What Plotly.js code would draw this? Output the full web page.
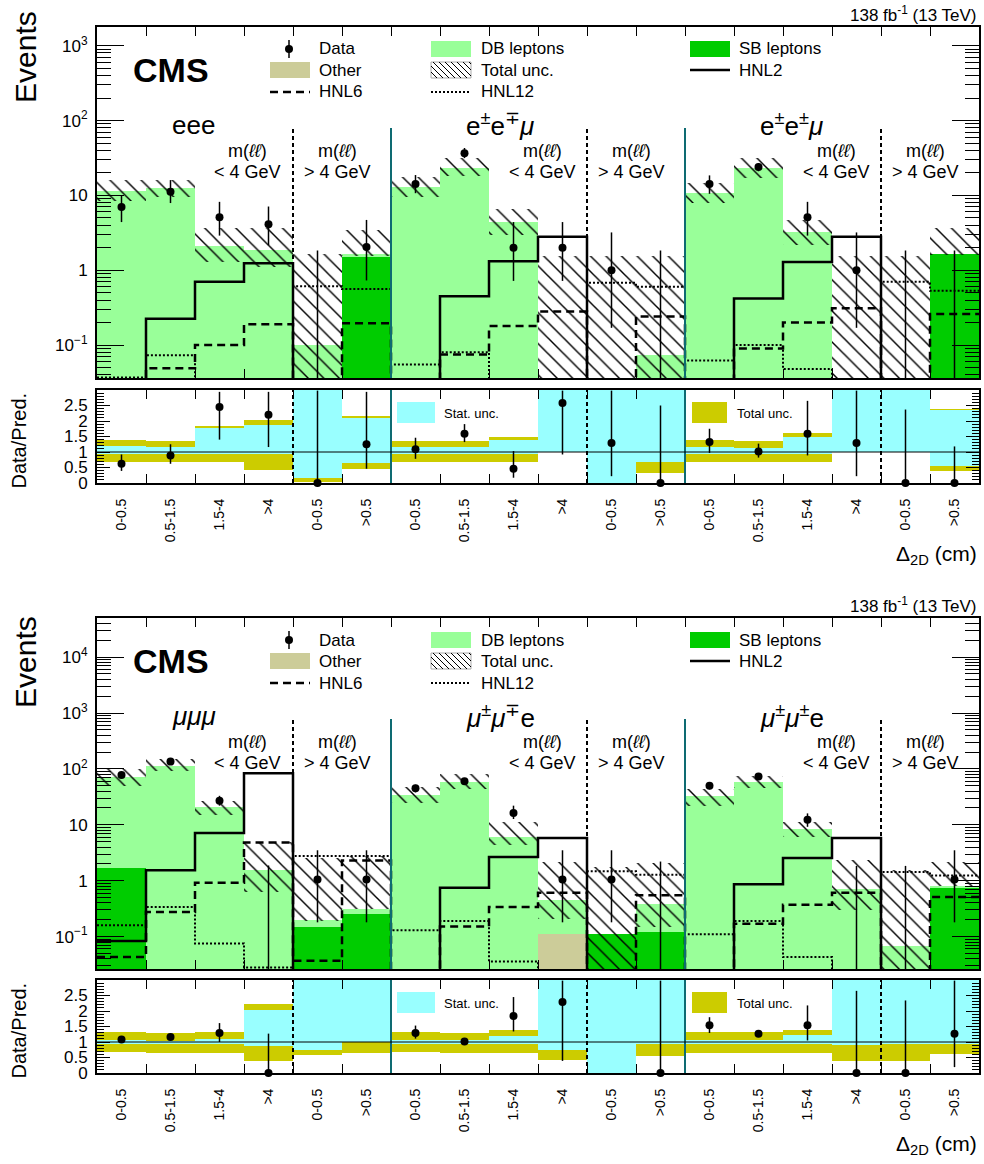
<!DOCTYPE html>
<html><head><meta charset="utf-8">
<script src="https://cdn.plot.ly/plotly-3.0.1.min.js"></script>
<style>body{margin:0;padding:0;background:#fff}#chart{width:984px;height:1164px}</style>
</head><body><div id="chart"></div>
<script>
// ---------------- DATA ----------------
const binLabels = ["0-0.5","0.5-1.5","1.5-4",">4","0-0.5",">0.5","0-0.5","0.5-1.5","1.5-4",">4","0-0.5",">0.5","0-0.5","0.5-1.5","1.5-4",">4","0-0.5",">0.5"];
const channelsE = ["eee","e<sup>±</sup>e<sup>∓</sup><i>μ</i>","e<sup>±</sup>e<sup>±</sup><i>μ</i>"];
const channelsM = ["<i>μμμ</i>","<i>μ</i><sup>±</sup><i>μ</i><sup>∓</sup>e","<i>μ</i><sup>±</sup><i>μ</i><sup>±</sup>e"];

// electron-channel panel (top)
const eOther  = [0,0,0,0,0,0, 0,0,0,0,0,0, 0,0,0,0,0,0];
const eSB     = [0,0,0,0,0,1.5, 0,0,0,0,0,0, 0,0,0,0,0,1.63];
const eDB     = [11.3,12.5,2.1,1.85,0.1,0.14, 13.0,23.5,4.4,0,0,0.073, 10.8,23.5,3.2,0,0,0];
const eUncHi  = [16,16,3.7,3.7,1.67,3.4, 17.7,31.5,6.5,1.54,1.54,1.54, 14.8,31.5,4.7,1.54,1.54,3.7];
const eUncLo  = [8.3,9.5,1.3,1.1,0.01,1.55, 9.5,18,3.0,0.01,0.01,0.01, 8,17,2.2,0.01,0.01,1.6];
const eData   = [7.0,11.2,5.1,4.1,0,2.05, 14.2,36.7,2.0,2.0,1.0,0, 14.2,24,5.1,1.0,0,0];
const eDataHi = [10,16,8.2,7.1,1.84,4.7, 18.7,43,4.4,4.4,3.2,1.84, 18.5,27,8.2,3.2,1.84,1.84];
const eDataLo = [4.4,7.9,2.9,2.16,0,0.73, 10.7,31.5,0.72,0.72,0.17,0, 10.5,21,2.9,0.17,0,0];
const eHNL2   = [0.01,0.225,0.70,1.24,0.01,0.01, 0.01,0.45,1.32,2.8,0.01,0.01, 0.01,0.42,1.29,2.8,0.01,0.01];
const eHNL6   = [0.01,0.049,0.10,0.19,0.01,0.195, 0.01,0.075,0.18,0.28,0.01,0.24, 0.01,0.09,0.20,0.31,0.01,0.26];
const eHNL12  = [0.037,0.073,0.034,0.03,0.61,0.56, 0.055,0.08,0.035,0.01,0.68,0.60, 0.062,0.10,0.048,0.01,0.70,0.53];
const eTotLo  = [0.68,0.68,0.68,0.41,0.03,0.46, 0.68,0.68,0.68,1.0,0,0.32, 0.68,0.68,0.68,1.0,1.0,0.39];
const eTotHi  = [1.38,1.35,1.84,2.04,3.2,2.15, 1.35,1.35,1.48,3.2,3.2,3.2, 1.38,1.34,1.61,3.2,3.2,2.39];
const eStatLo = [0.93,0.93,0.93,0.93,0.17,0.65, 0.93,0.93,0.93,1.0,0,0.68, 0.93,0.93,0.93,1.0,1.0,0.54];
const eStatHi = [1.18,1.16,1.78,1.86,3.2,2.10, 1.16,1.16,1.38,3.2,3.2,3.2, 1.16,1.14,1.50,3.2,3.2,2.34];
const eRatio  = [0.62,0.89,2.45,2.2,0,1.25, 1.09,1.59,0.46,2.58,1.29,0, 1.32,1.02,1.59,1.29,0,0];
const eRatioHi= [0.92,1.25,2.94,2.94,2.98,2.94, 1.46,1.90,1.03,2.98,2.98,2.50, 1.75,1.27,2.65,2.98,2.37,1.18];
const eRatioLo= [0.39,0.62,1.40,1.16,0,0.46, 0.78,1.32,0.17,0.92,0.22,0, 0.97,0.82,0.89,0.22,0,0];

// muon-channel panel (bottom)
const mOther  = [0,0,0,0,0,0, 0,0,0,0.113,0,0, 0,0,0,0,0,0];
const mSB     = [1.7,0,0,0,0.15,0.25, 0,0,0,0,0.113,0.12, 0,0,0,0,0,0.75];
const mDB     = [69.3,115,20.8,1.57,0.05,0.06, 34,58,6.0,0.337,0,0.27, 32.5,59,8.3,0.72,0.068,0.07];
const mUncHi  = [100,150,27,4.9,2.5,2.8, 47,81,11.2,2.16,1.76,2.1, 44,74,11.2,2.3,1.57,2.16];
const mUncLo  = [50,93,15,0.64,0.19,0.31, 25,44,4.3,0.21,0.01,0.15, 22,45,6.0,0.30,0.01,0.8];
const mData   = [78,135,27,0,1.05,1.05, 45,60,16.3,1.05,1.05,0, 50,73,12.3,0,0,1.05];
const mDataHi = [87,147,33,1.87,3.5,3.5, 52,68,22,3.5,3.5,2.2, 57,82,16,1.84,1.84,3.5];
const mDataLo = [69,124,22,0,0.18,0.18, 38,52,12.7,0.18,0.18,0, 43,64,9.2,0,0,0.18];
const mHNL2   = [0.083,1.53,7.1,84,0.01,0.01, 0.01,0.75,2.65,5.8,0.01,0.01, 0.01,0.86,2.54,5.8,0.01,0.01];
const mHNL6   = [0.043,0.275,0.92,4.8,0.037,2.3, 0.01,0.152,0.34,0.61,0.01,0.55, 0.01,0.17,0.37,0.61,0.01,0.51];
const mHNL12  = [0.16,0.34,0.075,0.028,2.76,2.76, 0.13,0.19,0.036,0.01,1.47,1.28, 0.11,0.19,0.043,0.01,1.43,1.24];
const mTotLo  = [0.68,0.65,0.66,0.39,0.57,0.65, 0.68,0.66,0.66,0.43,0,0.54, 0.66,0.66,0.66,0.39,0.39,0.62];
const mTotHi  = [1.32,1.29,1.32,2.24,3.2,3.2, 1.32,1.30,1.38,3.2,3.2,3.2, 1.32,1.32,1.38,3.2,3.2,3.2];
const mStatLo = [0.93,0.93,0.93,0.86,0.73,1.0, 0.93,0.93,0.93,0.73,0,0.95, 0.93,0.93,0.93,0.89,0.95,0.95];
const mStatHi = [1.05,1.04,1.09,2.04,3.2,3.2, 1.06,1.05,1.19,3.2,3.2,3.2, 1.08,1.05,1.22,3.2,3.2,3.2];
const mRatio  = [1.08,1.16,1.29,0,null,null, 1.29,1.02,1.84,2.29,null,0, 1.54,1.27,1.54,0,0,1.27];
const mRatioHi= [1.12,1.20,1.61,1.27,null,null, 1.53,1.08,2.45,2.98,null,2.98, 1.80,1.38,2.18,2.65,2.34,2.98];
const mRatioLo= [1.04,1.12,1.00,0,null,null, 1.11,0.96,1.34,0.39,null,0, 1.29,1.16,1.05,0,0,0.19];

// ---------------- STYLE / LAYOUT ----------------
const W = 984, H = 1164;
const FONT = '"Liberation Sans", Arial, Helvetica, sans-serif';
const C = {db:'#99ff99', sb:'#00cc00', other:'#cccc99', stat:'#99ffff', tot:'#cccc00', teal:'#0e6b72'};
const NB = binLabels.length;
const centers = binLabels.map((_, i) => i + 0.5);
const edges = Array.from({length: NB + 1}, (_, i) => i);
const X0 = 97, X1 = 979, BW = (X1 - X0) / NB;
const xDom = [X0 / W, X1 / W];
const px = x => x / W, py = y => 1 - y / H;

const panels = [
  {T:27, B:378, RT:390, RB:483, yrange:[-1.44, 3.25], ytv:[0.1,1,10,100,1000],
   xm:'x', ym:'y', xr:'x2', yr:'y2', ch:channelsE, evY:57,
   other:eOther, sb:eSB, db:eDB, uncHi:eUncHi, uncLo:eUncLo, data:eData, dHi:eDataHi, dLo:eDataLo,
   h2:eHNL2, h6:eHNL6, h12:eHNL12, totLo:eTotLo, totHi:eTotHi, stLo:eStatLo, stHi:eStatHi,
   r:eRatio, rHi:eRatioHi, rLo:eRatioLo},
  {T:618, B:969, RT:980, RB:1073, yrange:[-1.58, 4.7], ytv:[0.1,1,10,100,1000,10000],
   xm:'x3', ym:'y3', xr:'x4', yr:'y4', ch:channelsM, evY:662,
   other:mOther, sb:mSB, db:mDB, uncHi:mUncHi, uncLo:mUncLo, data:mData, dHi:mDataHi, dLo:mDataLo,
   h2:mHNL2, h6:mHNL6, h12:mHNL12, totLo:mTotLo, totHi:mTotHi, stLo:mStatLo, stHi:mStatHi,
   r:mRatio, rHi:mRatioHi, rLo:mRatioLo}
];

const traces = [], shapes = [], annotations = [];
const layout = {
  width: W, height: H, margin: {l:0, r:0, t:0, b:0},
  paper_bgcolor: 'white', plot_bgcolor: 'rgba(0,0,0,0)',
  showlegend: false, barmode: 'overlay', bargap: 0,
  font: {family: FONT, color: 'black'}
};

const nz = a => a.map(v => (v > 0 ? v : null));
const logTickText = v => { const e = Math.round(Math.log10(v)); return e === 0 ? '1' : e === 1 ? '10' : '10<sup>' + (e < 0 ? '−' + (-e) : e) + '</sup>'; };

function ann(text, x, y, size, o) {
  annotations.push(Object.assign({text, x: px(x), y: py(y), xref:'paper', yref:'paper', showarrow:false,
    font:{family:FONT, size, color:'black'}, xanchor:'center', yanchor:'middle'}, o || {}));
}
function rect(x0, y0, x1, y1, fill, line) {
  shapes.push({type:'rect', xref:'paper', yref:'paper', x0:px(x0), x1:px(x1), y0:py(y1), y1:py(y0),
    fillcolor: fill, line: line || {width:0}, layer:'above'});
}
function seg(x0, y0, x1, y1, line) {
  shapes.push({type:'line', xref:'paper', yref:'paper', x0:px(x0), x1:px(x1), y0:py(y0), y1:py(y1), line, layer:'above'});
}

panels.forEach((p, k) => {
  const sfx = k === 0 ? ['', '2'] : ['3', '4'];
  const xmKey = 'xaxis' + sfx[0], ymKey = 'yaxis' + sfx[0], xrKey = 'xaxis' + sfx[1], yrKey = 'yaxis' + sfx[1];
  const minorLog = [];
  for (let e = -3; e <= 5; e++) for (let d = 2; d <= 9; d++) minorLog.push(d * Math.pow(10, e));
  const minorLin = [];
  for (let i = 1; i < 30; i++) minorLin.push(+(i * 0.1).toFixed(1));

  layout[xmKey] = {domain:xDom, range:[0, NB], anchor:p.ym, tickmode:'array', tickvals:edges.slice(1, -1),
    ticks:'inside', ticklen:9, tickwidth:1, tickcolor:'black', showticklabels:false, showline:true, linewidth:2,
    linecolor:'black', mirror:'ticks', showgrid:false, zeroline:false, fixedrange:true};
  layout[ymKey] = {domain:[py(p.B), py(p.T)], type:'log', range:p.yrange, anchor:p.xm, tickmode:'array',
    tickvals:p.ytv, ticktext:p.ytv.map(logTickText), ticks:'inside', ticklen:27, tickwidth:1, tickcolor:'black',
    minor:{tickmode:'array', tickvals:minorLog, ticks:'inside', ticklen:14, tickwidth:1, tickcolor:'black', showgrid:false},
    tickfont:{family:FONT, size:17}, showline:true, linewidth:2, linecolor:'black', mirror:'ticks',
    showgrid:false, zeroline:false, ticklabelstandoff:4, fixedrange:true};
  layout[xrKey] = {domain:xDom, range:[0, NB], anchor:p.yr, tickmode:'array', tickvals:centers, ticktext:binLabels,
    tickangle:-90, ticks:'inside', ticklen:0, tickfont:{family:FONT, size:14},
    minor:{tickmode:'array', tickvals:edges.slice(1, -1), ticks:'inside', ticklen:9, tickwidth:1, tickcolor:'black', showgrid:false},
    showline:true, linewidth:2, linecolor:'black', mirror:'ticks', showgrid:false, zeroline:false, ticklabelstandoff:8, fixedrange:true};
  layout[yrKey] = {domain:[py(p.RB), py(p.RT)], range:[0, 3], anchor:p.xr, tickmode:'array',
    tickvals:[0,0.5,1,1.5,2,2.5], ticktext:['0','0.5','1','1.5','2','2.5'], ticks:'inside', ticklen:13, tickwidth:1,
    tickcolor:'black', minor:{tickmode:'array', tickvals:minorLin, ticks:'inside', ticklen:7, tickwidth:1, tickcolor:'black', showgrid:false},
    tickfont:{family:FONT, size:17}, showline:true, linewidth:2, linecolor:'black', mirror:'ticks', showgrid:false,
    zeroline:false, ticklabelstandoff:4, fixedrange:true};

  const ax = {xaxis:p.xm, yaxis:p.ym, hoverinfo:'skip'};
  const tot = p.other.map((v, i) => v + p.sb[i] + p.db[i]);
  const sbc = p.other.map((v, i) => v + p.sb[i]);
  traces.push(Object.assign({type:'bar', x:centers, y:nz(tot), width:1, marker:{color:C.db, line:{width:0}}}, ax));
  traces.push(Object.assign({type:'bar', x:centers, y:nz(sbc), width:1, marker:{color:C.sb, line:{width:0}}}, ax));
  traces.push(Object.assign({type:'bar', x:centers, y:nz(p.other), width:1, marker:{color:C.other, line:{width:0}}}, ax));
  traces.push(Object.assign({type:'bar', x:centers, base:p.uncLo, y:p.uncHi.map((v, i) => v - p.uncLo[i]), width:1,
    marker:{color:'rgba(0,0,0,0)', line:{width:0},
      pattern:{shape:'\\', fgcolor:'black', bgcolor:'rgba(0,0,0,0)', size:11, solidity:0.13}}}, ax));
  const stepY = v => v.concat([v[v.length - 1]]);
  traces.push(Object.assign({type:'scatter', mode:'lines', x:edges, y:stepY(p.h12), line:{shape:'hv', color:'black', width:2, dash:'2px,2px'}}, ax));
  traces.push(Object.assign({type:'scatter', mode:'lines', x:edges, y:stepY(p.h6), line:{shape:'hv', color:'black', width:2.5, dash:'8px,5px'}}, ax));
  traces.push(Object.assign({type:'scatter', mode:'lines', x:edges, y:stepY(p.h2), line:{shape:'hv', color:'black', width:2.5}}, ax));
  const ex = [], ey = [];
  p.data.forEach((v, i) => { ex.push(centers[i], centers[i], null); ey.push(p.dLo[i] > 0 ? p.dLo[i] : 1e-4, p.dHi[i], null); });
  traces.push(Object.assign({type:'scatter', mode:'lines', x:ex, y:ey, line:{color:'black', width:1.5}}, ax));
  traces.push(Object.assign({type:'scatter', mode:'markers', x:centers, y:nz(p.data), marker:{color:'black', size:8}}, ax));

  const rx = {xaxis:p.xr, yaxis:p.yr, hoverinfo:'skip'};
  traces.push(Object.assign({type:'bar', x:centers, base:p.totLo, y:p.totHi.map((v, i) => v - p.totLo[i]), width:1,
    marker:{color:C.tot, line:{width:0}}}, rx));
  traces.push(Object.assign({type:'bar', x:centers, base:p.stLo, y:p.stHi.map((v, i) => v - p.stLo[i]), width:1,
    marker:{color:C.stat, line:{width:0}}}, rx));
  const rxs = [], rys = [];
  p.r.forEach((v, i) => { if (v === null) return; rxs.push(centers[i], centers[i], null); rys.push(p.rLo[i], p.rHi[i], null); });
  traces.push(Object.assign({type:'scatter', mode:'lines', x:rxs, y:rys, line:{color:'black', width:1.5}, cliponaxis:false}, rx));
  traces.push(Object.assign({type:'scatter', mode:'markers', x:centers, y:p.r, marker:{color:'black', size:8}, cliponaxis:false}, rx));

  const sepTop = (p.B - (p.T + 101)) / (p.B - p.T);
  [4, 10, 16].forEach(xv => {
    shapes.push({type:'line', xref:p.xm, yref:p.ym + ' domain', x0:xv, x1:xv, y0:0, y1:sepTop, line:{color:'black', width:2, dash:'4px,3px'}});
    shapes.push({type:'line', xref:p.xr, yref:p.yr + ' domain', x0:xv, x1:xv, y0:0, y1:1, line:{color:'black', width:2, dash:'4px,3px'}});
  });
  [6, 12].forEach(xv => {
    shapes.push({type:'line', xref:p.xm, yref:p.ym + ' domain', x0:xv, x1:xv, y0:0, y1:sepTop, line:{color:C.teal, width:2}});
    shapes.push({type:'line', xref:p.xr, yref:p.yr + ' domain', x0:xv, x1:xv, y0:0, y1:1, line:{color:C.teal, width:2}});
  });
  shapes.push({type:'line', xref:p.xr, yref:p.yr, x0:0, x1:NB, y0:1, y1:1, line:{color:'black', width:1}});

  const T = p.T;
  ann('138 fb<sup>-1</sup> (13 TeV)', X1, T - 13, 17, {xanchor:'right'});
  ann('<b>CMS</b>', 131, T + 43, 34, {xanchor:'left'});
  ann('Events', 25, p.evY, 30, {textangle:-90});
  ann('Data/Pred.', 18, (p.RT + p.RB) / 2 + 4, 20, {textangle:-90});
  ann('Δ<sub>2D</sub> (cm)', X1, p.RB + 72, 21, {xanchor:'right'});
  for (let g = 0; g < 3; g++) {
    const off = g * 6 * BW;
    ann(p.ch[g], 170 + off, T + 98, 26, {xanchor:'left'});
    ann('m(<i>ℓℓ</i>)', 248 + off, T + 124, 18);
    ann('&lt; 4 GeV', 248 + off, T + 145, 18);
    ann('m(<i>ℓℓ</i>)', 337 + off, T + 124, 18);
    ann('&gt; 4 GeV', 337 + off, T + 145, 18);
  }
  const r1 = T + 22, r2 = T + 43, r3 = T + 65, hh = 8;
  shapes.push({type:'circle', xref:'paper', yref:'paper', x0:px(285), x1:px(293), y0:py(r1 + 4), y1:py(r1 - 4), fillcolor:'black', line:{width:0}});
  seg(289, r1 - 9, 289, r1 + 9, {color:'black', width:1.5});
  ann('Data', 317, r1, 17, {xanchor:'left'});
  rect(270, r2 - hh, 310, r2 + hh, C.other);
  ann('Other', 317, r2, 17, {xanchor:'left'});
  seg(270, r3, 310, r3, {color:'black', width:2.5, dash:'8px,5px'});
  ann('HNL6', 317, r3, 17, {xanchor:'left'});
  rect(431, r1 - hh, 471, r1 + hh, C.db);
  ann('DB leptons', 479, r1, 17, {xanchor:'left'});
  rect(431, r2 - hh, 471, r2 + hh, 'rgba(0,0,0,0)', {color:'#aaaaaa', width:1});
  const bx0 = 431, bx1 = 471, by0 = r2 - hh, by1 = r2 + hh, hgt = by1 - by0;
  for (let s = bx0 - hgt; s < bx1; s += 6) {
    let xa = s, ya = by0, xb = s + hgt, yb = by1;
    if (xa < bx0) { ya = by0 + (bx0 - xa); xa = bx0; }
    if (xb > bx1) { yb = by1 - (xb - bx1); xb = bx1; }
    if (xb > xa) seg(xa, ya, xb, yb, {color:'black', width:1});
  }
  ann('Total unc.', 479, r2, 17, {xanchor:'left'});
  seg(431, r3, 471, r3, {color:'black', width:2, dash:'2px,2px'});
  ann('HNL12', 479, r3, 17, {xanchor:'left'});
  rect(690, r1 - hh, 730, r1 + hh, C.sb);
  ann('SB leptons', 737, r1, 17, {xanchor:'left'});
  seg(690, r2, 730, r2, {color:'black', width:2.5});
  ann('HNL2', 737, r2, 17, {xanchor:'left'});
  rect(397, p.RT + 12, 435, p.RT + 33, C.stat);
  ann('Stat. unc.', 442, p.RT + 23, 13, {xanchor:'left'});
  rect(692, p.RT + 12, 727, p.RT + 33, C.tot);
  ann('Total unc.', 735, p.RT + 23, 13, {xanchor:'left'});
});

layout.shapes = shapes;
layout.annotations = annotations;
Plotly.newPlot('chart', traces, layout, {displayModeBar:false, staticPlot:true});
</script>
</body></html>
